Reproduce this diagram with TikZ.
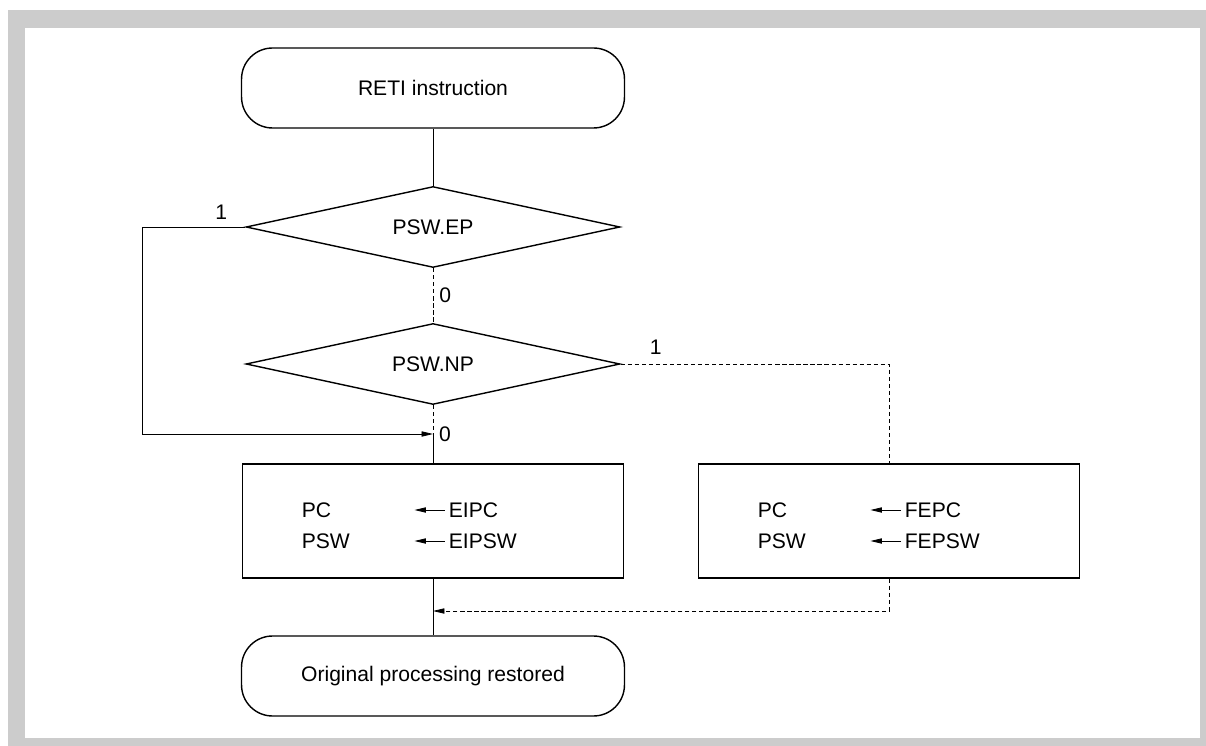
\documentclass[tikz,border=0pt]{standalone}
\usepackage{fontspec}
\setmainfont{Liberation Sans}
\usepackage{tikz}
\usetikzlibrary{arrows.meta}
\usetikzlibrary{shapes.geometric}

\begin{document}
\begin{tikzpicture}[x=0.02cm,y=-0.02cm,font=\fontsize{12}{14}\selectfont]
\tikzstyle{term}=[draw,line width=0.8pt,rounded corners=0.62cm,minimum width=7.66cm,minimum height=1.6cm]
\tikzstyle{test}=[draw,diamond,aspect=4.56,line width=0.8pt,minimum width=7.48cm,minimum height=1.62cm,inner sep=0pt]
\tikzstyle{proc}=[draw,line width=0.8pt,minimum width=7.62cm,minimum height=2.28cm]
\tikzstyle{reg}=[anchor=west,inner sep=0pt]
\tikzstyle{flow}=[line width=0.45pt]
\tikzstyle{alt}=[line width=0.45pt,dash pattern=on 2.4pt off 1.6pt]
\tikzstyle{tip}=[-{Triangle[length=6.5pt,width=3pt]}]
\useasboundingbox (0,0) rectangle (1206,746);
\fill[black!20] (8,10) rectangle (1206,746);
\fill[white] (25,28) rectangle (1200,738);
\node[term] (t1) at (433,88) {RETI instruction};
\node[test] (d1) at (433,227) {PSW.EP};
\node[test] (d2) at (433,364) {PSW.NP};
\node[proc] (box1) at (433,521) {};
\node[proc] (box2) at (889,521) {};
\node[term] (t2) at (433,676) {Original processing restored};
\node[reg] (pc1) at (301.5,510) {PC};
\node[reg] (psw1) at (301.5,541) {PSW};
\node[reg] (eipc) at (448.5,510) {EIPC};
\node[reg] (eipsw) at (448.5,541) {EIPSW};
\node[reg] (pc2) at (757.5,510) {PC};
\node[reg] (psw2) at (757.5,541) {PSW};
\node[reg] (fepc) at (904.5,510) {FEPC};
\node[reg] (fepsw) at (904.5,541) {FEPSW};
\coordinate (m1) at (433,434);
\coordinate (m2) at (433,611);
\node (l1) at ([shift={(-24,-15)}]d1.west) {1};
\node (l4) at ([shift={(35,-17)}]d2.east) {1};
\node[right] (l3) at (m1) {0};
\draw[flow] (t1) -- (d1);
\draw[alt] (d1) -- node[right] (l2) {0} (d2);
\draw[alt] (d2) -- (m1);
\draw[flow] (m1) -- (box1);
\draw[flow,tip] (d1.west) -- ++(-103,0) |- (m1);
\draw[alt] (d2.east) -| (box2.north);
\draw[flow] (box1) -- (t2);
\draw[alt,tip] (box2.south) |- (m2);
\draw[flow,tip,shorten <=2pt] (eipc.west) -- ++(-34,0);
\draw[flow,tip,shorten <=2pt] (eipsw.west) -- ++(-34,0);
\draw[flow,tip,shorten <=2pt] (fepc.west) -- ++(-34,0);
\draw[flow,tip,shorten <=2pt] (fepsw.west) -- ++(-34,0);
\end{tikzpicture}
\end{document}
